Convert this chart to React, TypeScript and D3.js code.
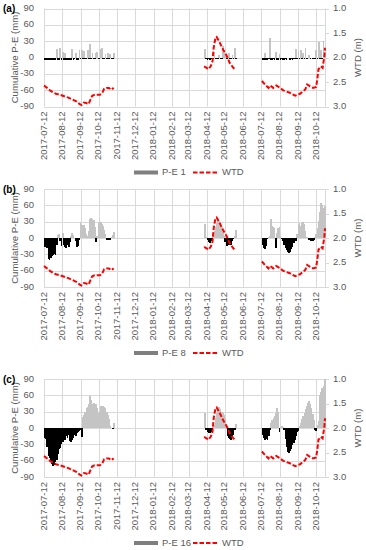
import * as d3 from "d3";
import React from "react";

// month ticks on the date axis
const monthLabels = [
  "2017-07-12", "2017-08-12", "2017-09-12", "2017-10-12", "2017-11-12", "2017-12-12",
  "2018-01-12", "2018-02-12", "2018-03-12", "2018-04-12", "2018-05-12", "2018-06-12",
  "2018-07-12", "2018-08-12", "2018-09-12", "2018-10-12",
];
const leftTicks = [90, 60, 30, 0, -30, -60, -90];
const rightTicks = [1.0, 1.5, 2.0, 2.5, 3.0];

// each measuring period starts here, one bar value every 2 days
const periodStarts = ["2017-07-12", "2018-04-07", "2018-07-13"];

const pe1 = [
  [-5, -5, -5, -4, -5, -5, -4, -5, -4, -5, 16, -4, -5, 18, -4, 10, -4, 8, -5, -4, -4, -3, -4, 15, -4, -3, 8, -4, -4, 13,
    -3, 14, -3, 12, -3, -2, 14, -3, 24, -3, 8, -2, -3, 8, 10, -3, -2, 16, 18, -3, -2, 7, -3, 9, -2, 6, -3, -2, 9],
  [15, -3, -4, -3, -4, -3, -3, -2, 10, -3, -3, -2, 5, -3, -3, 21, 14, 5, -3, -3, 8, -3, -3, 5, -3, 18, -2],
  [-4, -4, 8, -4, -4, -3, 35, -4, -4, -3, -4, 10, -4, -4, 6, -4, -3, -4, -4, -3, -4, 0, -1, -4, -3, -4, -3, -3, 15, -3,
    12, -2, 14, -2, 8, -2, 18, -2, 0, 5, -2, -1, -2, 0, -2, 14, -2, 28, -3, 14, -2, 30, 10],
];
const pe8 = [
  [-16, -17, -18, -38, -40, -36, -33, -32, -30, -31, -12, 5, 8, -6, -14, 9, -12, -17, -18, -12, -16, -8, 3, 9, 5, 0, -5, -17, -14, -3,
    30, 24, 22, 23, 18, 8, 3, 12, 34, 36, 35, 33, 20, -8, 4, 27, 31, 30, 26, 22, 15, 8, -3, -3, -2, -3, 2, 6, 11],
  [26, 2, -4, -8, -10, -6, -3, 5, 12, 20, 28, 34, 32, 26, 20, 12, 4, -8, -14, -15, -12, -8, -12, -6, -2, 3, 15],
  [-12, -18, -20, -14, -2, 2, 4, 35, 22, 20, 18, -18, 10, 18, 20, 3, -2, -6, -12, -18, -22, -26, -27, -25, -20, -16, -10, -3, -6, 8,
    26, 28, 22, 27, 30, 26, 12, 2, 0, -3, -5, -6, -5, -4, 2, 8, 18, 32, 48, 64, 60, 55, 58],
];
const pe16 = [
  [-18, -20, -35, -52, -55, -62, -66, -70, -68, -62, -58, -48, -38, -36, -30, -25, -16, -22, -14, -18, -13, -24, -26, -22, -19, -12, -14, -10, -7, -5,
    -4, -17, 20, 24, 30, 36, 38, 45, 58, 52, 44, 46, 40, 45, 36, 28, 32, 40, 38, 40, 38, 36, 30, 24, 16, 4, 0, -2, 9],
  [28, -4, -8, -10, -10, -8, -5, 2, 6, 18, 28, 36, 38, 35, 30, 28, 24, 18, 4, -14, -18, -20, -22, -18, -12, -4, 8],
  [-13, -18, -22, -20, -22, -14, -4, 10, 15, 18, 22, 28, 37, 30, -8, 2, 3, 1, -4, -20, -35, -44, -45, -42, -38, -32, -28, -22, -15, -8,
    -5, 4, 10, 16, 22, 28, 34, 40, 46, 50, 44, 36, 26, 14, -3, -5, 6, 12, 60, 66, 74, 78, 90],
];

// water table depth, null = gap between periods
const wtdDates = [
  "2017-07-12", "2017-07-17", "2017-07-22", "2017-07-27", "2017-08-01", "2017-08-08", "2017-08-15", "2017-08-22", "2017-08-29",
  "2017-09-05", "2017-09-10", "2017-09-13", "2017-09-17", "2017-09-21", "2017-09-25", "2017-09-28", "2017-10-01", "2017-10-05",
  "2017-10-10", "2017-10-14", "2017-10-18", "2017-10-21", "2017-10-25", "2017-10-29", "2017-11-02", "2017-11-06",
  null,
  "2018-04-07", "2018-04-11", "2018-04-14", "2018-04-18", "2018-04-21", "2018-04-23", "2018-04-26", "2018-04-28", "2018-05-02",
  "2018-05-09", "2018-05-15", "2018-05-20", "2018-05-26", "2018-05-29",
  null,
  "2018-07-13", "2018-07-18", "2018-07-24", "2018-07-27", "2018-08-01", "2018-08-06", "2018-08-10", "2018-08-18", "2018-08-29",
  "2018-09-07", "2018-09-11", "2018-09-15", "2018-09-24", "2018-09-27", "2018-10-02", "2018-10-07", "2018-10-12", "2018-10-14",
  "2018-10-16", "2018-10-20", "2018-10-23", "2018-10-26", "2018-10-27",
];
const wtdValues = [
  2.57, 2.62, 2.67, 2.71, 2.74, 2.76, 2.79, 2.82, 2.86,
  2.90, 2.95, 2.97, 2.92, 2.93, 2.95, 2.86, 2.78, 2.76,
  2.76, 2.76, 2.72, 2.64, 2.62, 2.62, 2.66, 2.62,
  null,
  2.18, 2.21, 2.24, 2.18, 2.08, 1.80, 1.60, 1.58, 1.67,
  1.84, 1.97, 2.11, 2.21, 2.24,
  null,
  2.48, 2.55, 2.62, 2.57, 2.62, 2.57, 2.60, 2.67, 2.72,
  2.78, 2.76, 2.74, 2.65, 2.55, 2.59, 2.62, 2.60, 2.45,
  2.24, 2.18, 2.21, 1.97, 1.80,
];

const panelLabels = ["(a)", "(b)", "(c)"];
const seriesNames = ["P-E 1", "P-E 8", "P-E 16"];
const seriesData = [pe1, pe8, pe16];

const panelTops = [8.5, 189, 379];
const plotH = 98;
const left = 44;
const right = 325;
const font = "Liberation Sans, Arial, sans-serif";
const grey = "#595959";

const parse = d3.utcParse("%Y-%m-%d");
const x = d3.scaleUtc()
  .domain([parse("2017-07-12") as Date, parse("2018-10-27") as Date])
  .range([left, right]);

const wtd = wtdDates.map((d, i) => ({ date: d ? parse(d) : null, v: wtdValues[i] }));

function Panel({ top, label, name, series }: { top: number; label: string; name: string; series: number[][] }) {
  const bottom = top + plotH;
  const y = d3.scaleLinear().domain([-90, 90]).range([bottom, top]);
  const yr = d3.scaleLinear().domain([1, 3]).range([top, bottom]);

  const bars = series.flatMap((vals, p) => {
    const s = parse(periodStarts[p]) as Date;
    return vals.map((v, i) => {
      const d0 = d3.utcDay.offset(s, 2 * i);
      const d1 = d3.utcDay.offset(s, 2 * i + 2);
      return { x0: x(d0), x1: x(d1), v };
    });
  });

  const line = d3.line<any>()
    .defined((d) => d.v != null)
    .x((d) => x(d.date))
    .y((d) => yr(d.v));

  const legendY = top + 164;

  return (
    <g>
      {leftTicks.map((t) => (
        <line key={"h" + t} x1={left} x2={right} y1={Math.round(y(t)) + 0.5} y2={Math.round(y(t)) + 0.5} stroke="#d9d9d9" />
      ))}
      {monthLabels.map((m) => {
        const xx = Math.round(x(parse(m) as Date)) + 0.5;
        return <line key={"v" + m} x1={xx} x2={xx} y1={top} y2={bottom} stroke="#d9d9d9" />;
      })}
      <line x1={right + 0.5} x2={right + 0.5} y1={top} y2={bottom} stroke="#d9d9d9" />
      {rightTicks.map((t) => (
        <line key={"rt" + t} x1={right} x2={right + 4} y1={Math.round(yr(t)) + 0.5} y2={Math.round(yr(t)) + 0.5} stroke="#d9d9d9" />
      ))}

      <g shapeRendering="crispEdges">
        {bars.map((b, i) => (
          <rect key={i} x={b.x0} width={b.x1 - b.x0 + 0.5}
            y={Math.min(y(b.v), y(0))} height={Math.abs(y(b.v) - y(0))}
            fill={b.v < 0 ? "#000" : "#c4c4c4"} />
        ))}
      </g>

      <path d={line(wtd) || ""} fill="none" stroke="#ff0000" strokeWidth={2} strokeDasharray="4.5,2" />

      {leftTicks.map((t) => (
        <text key={"lt" + t} x={34} y={y(t)} textAnchor="end" dominantBaseline="middle" fontSize={9.5} fill={grey}>{t}</text>
      ))}
      {rightTicks.map((t) => (
        <text key={"rl" + t} x={333} y={yr(t)} dominantBaseline="middle" fontSize={9.5} fill={grey}>{t.toFixed(1)}</text>
      ))}
      {monthLabels.map((m) => (
        <text key={"ml" + m} transform={`translate(${x(parse(m) as Date)},${bottom + 5}) rotate(-90)`}
          textAnchor="end" dominantBaseline="middle" fontSize={9.5} fill={grey}>{m}</text>
      ))}

      <text transform={`translate(15,${(top + bottom) / 2}) rotate(-90)`} textAnchor="middle" dominantBaseline="middle"
        fontSize={9.6} fill={grey}>Cumulative P-E (mm)</text>
      <text transform={`translate(358,${(top + bottom) / 2}) rotate(-90)`} textAnchor="middle" dominantBaseline="middle"
        fontSize={9.6} fill={grey}>WTD (m)</text>
      <text x={3} y={top + 1} dominantBaseline="middle" fontSize={10} fontWeight="bold" fill="#000">{label}</text>

      <rect x={134} y={legendY - 2} width={24} height={4} fill="#7f7f7f" />
      <text x={162} y={legendY} dominantBaseline="middle" fontSize={9.5} fill={grey}>{name}</text>
      <line x1={193} x2={219} y1={legendY} y2={legendY} stroke="#ff0000" strokeWidth={2} strokeDasharray="4.5,2" />
      <text x={222} y={legendY} dominantBaseline="middle" fontSize={9.5} fill={grey}>WTD</text>
    </g>
  );
}

export default function App() {
  return (
    <svg width={366} height={550} style={{ position: "absolute", left: 0, top: 0, background: "#fff", fontFamily: font }}>
      {panelTops.map((top, i) => (
        <Panel key={i} top={top} label={panelLabels[i]} name={seriesNames[i]} series={seriesData[i]} />
      ))}
    </svg>
  );
}
